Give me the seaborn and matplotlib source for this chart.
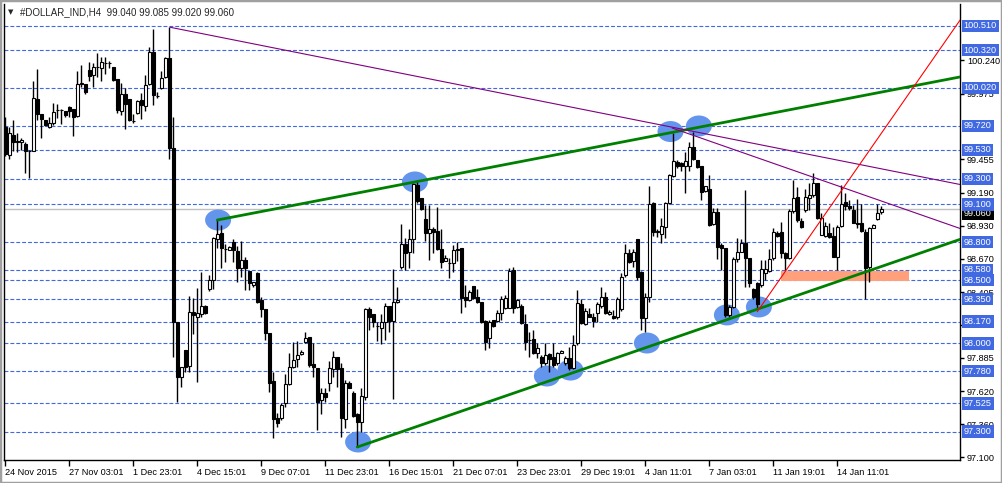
import numpy as np
import matplotlib
matplotlib.use("Agg")
import matplotlib.pyplot as plt
from matplotlib.patches import Ellipse, Rectangle
from matplotlib.transforms import blended_transform_factory
import seaborn as sns

# H4 bars of #DOLLAR_IND, bar 0 = 24 Nov 2015
opens = [
    99.710, 99.490, 99.650, 99.600, 99.590, 99.580, 99.520, 99.520, 99.930, 99.814,
    99.767, 99.714, 99.740, 99.846, 99.846, 99.840, 99.867, 99.851, 99.798, 100.050,
    100.052, 100.163, 100.123, 100.184, 100.176, 100.215, 100.215, 100.189, 100.088, 99.838,
    99.973, 99.933, 99.759, 99.820, 99.925, 99.877, 100.052, 100.307, 99.957, 100.017,
    100.110, 100.255, 99.543, 98.171, 97.736, 97.947, 97.823, 98.245, 98.211, 98.232,
    98.298, 98.427, 98.501, 98.823, 98.870, 98.743, 98.738, 98.804, 98.730, 98.593,
    98.659, 98.574, 98.461, 98.553, 98.343, 98.269, 98.079, 97.702, 97.406, 97.412,
    97.525, 97.678, 97.815, 97.873, 97.913, 98.013, 98.047, 97.836, 97.802, 97.551,
    97.610, 97.683, 97.794, 97.889, 97.802, 97.398, 97.683, 97.604, 97.438, 97.375,
    97.578, 98.269, 98.229, 98.137, 98.118, 98.171, 98.295, 98.176, 98.324, 98.606,
    98.783, 98.725, 98.822, 99.252, 99.152, 98.980, 98.875, 98.901, 98.891, 98.743,
    98.654, 98.633, 98.633, 98.738, 98.751, 98.364, 98.343, 98.454, 98.364, 98.324,
    98.176, 98.039, 98.184, 98.179, 98.237, 98.277, 98.282, 98.580, 98.285, 98.298,
    98.153, 98.026, 98.031, 97.920, 97.894, 97.847, 97.913, 97.889, 97.841, 97.926,
    97.841, 97.881, 97.802, 97.999, 98.308, 98.153, 98.232, 98.206, 98.237, 98.295,
    98.364, 98.232, 98.216, 98.211, 98.269, 98.540, 98.717, 98.654, 98.822, 98.567,
    98.198, 98.369, 99.112, 98.883, 98.862, 98.923, 99.112, 99.323, 99.437, 99.429,
    99.402, 99.402, 99.550, 99.450, 99.402, 99.207, 99.218, 98.944, 99.036, 98.778,
    98.751, 98.224, 98.290, 98.664, 98.725, 98.791, 98.672, 98.427, 98.474, 98.461,
    98.554, 98.575, 98.672, 98.875, 98.883, 98.717, 98.672, 99.049, 99.155, 98.970,
    99.054, 99.147, 99.173, 99.271, 98.857, 98.849, 98.875, 98.849, 98.685, 98.928,
    99.120, 99.086, 99.054, 98.954, 98.949, 98.883, 98.601, 98.915, 98.981, 99.040,
]
highs = [
    99.790, 99.710, 99.770, 99.660, 99.620, 99.590, 99.530, 100.075, 100.168, 99.814,
    99.767, 99.793, 99.904, 99.894, 99.850, 99.840, 99.877, 99.851, 100.150, 100.202,
    100.052, 100.223, 100.215, 100.294, 100.268, 100.268, 100.233, 100.189, 100.088, 100.057,
    100.017, 99.933, 99.814, 99.925, 99.978, 100.123, 100.347, 100.484, 99.990, 100.150,
    100.263, 100.500, 99.793, 98.171, 97.815, 97.947, 98.370, 98.361, 98.435, 98.561,
    98.303, 98.540, 98.844, 98.975, 98.936, 98.783, 98.772, 98.825, 98.770, 98.810,
    98.680, 98.574, 98.488, 98.561, 98.369, 98.269, 98.079, 97.776, 97.446, 97.525,
    97.757, 97.920, 98.013, 98.021, 97.947, 98.092, 98.047, 98.000, 97.802, 97.644,
    97.644, 97.863, 97.939, 97.894, 97.842, 97.710, 97.705, 97.625, 97.446, 97.644,
    98.277, 98.290, 98.229, 98.171, 98.232, 98.322, 98.295, 98.585, 98.448, 98.944,
    98.830, 98.901, 99.265, 99.292, 99.152, 99.094, 99.094, 98.922, 99.075, 98.901,
    98.699, 98.672, 98.778, 98.804, 98.751, 98.461, 98.422, 98.454, 98.427, 98.324,
    98.184, 98.184, 98.184, 98.264, 98.374, 98.382, 98.593, 98.606, 98.348, 98.311,
    98.232, 98.092, 98.105, 98.000, 97.907, 98.000, 97.920, 98.000, 97.934, 97.947,
    97.899, 97.973, 98.066, 98.422, 98.348, 98.277, 98.277, 98.237, 98.329, 98.443,
    98.408, 98.264, 98.264, 98.364, 98.559, 98.785, 98.743, 98.743, 98.822, 98.575,
    98.395, 99.244, 99.120, 98.902, 98.988, 99.120, 99.339, 99.660, 99.450, 99.432,
    99.516, 99.595, 99.674, 99.450, 99.402, 99.244, 99.331, 99.068, 99.068, 98.796,
    98.751, 98.303, 98.680, 98.836, 98.822, 99.213, 98.672, 98.435, 98.487, 98.659,
    98.659, 98.743, 98.909, 98.891, 98.962, 98.725, 99.060, 99.292, 99.234, 98.988,
    99.218, 99.271, 99.345, 99.271, 99.028, 98.962, 98.954, 98.923, 98.936, 99.252,
    99.192, 99.134, 99.094, 99.139, 99.102, 98.902, 98.923, 98.944, 99.102, 99.085,
]
lows = [
    99.480, 99.460, 99.520, 99.510, 99.530, 99.345, 99.305, 99.520, 99.770, 99.620,
    99.720, 99.700, 99.727, 99.780, 99.735, 99.793, 99.793, 99.640, 99.793, 100.030,
    99.973, 100.075, 100.031, 100.110, 100.075, 100.128, 100.176, 100.078, 99.820, 99.806,
    99.693, 99.762, 99.740, 99.814, 99.777, 99.840, 100.044, 99.885, 99.938, 100.010,
    100.100, 99.455, 97.894, 97.538, 97.657, 97.776, 97.776, 98.074, 97.697, 98.206,
    98.232, 98.416, 98.427, 98.751, 98.599, 98.641, 98.738, 98.646, 98.488, 98.527,
    98.422, 98.422, 98.448, 98.322, 98.211, 98.026, 97.618, 97.248, 97.335, 97.393,
    97.499, 97.670, 97.802, 97.815, 97.907, 98.005, 97.815, 97.736, 97.314, 97.441,
    97.538, 97.625, 97.736, 97.657, 97.261, 97.327, 97.644, 97.420, 97.177, 97.301,
    97.551, 98.105, 98.132, 98.021, 97.994, 98.026, 98.087, 97.559, 98.322, 98.585,
    98.580, 98.593, 98.712, 99.112, 99.054, 98.812, 98.659, 98.712, 98.738, 98.599,
    98.651, 98.519, 98.567, 98.654, 98.237, 98.290, 98.337, 98.350, 98.322, 98.158,
    97.947, 97.960, 98.132, 98.171, 98.184, 98.269, 98.277, 98.242, 98.282, 98.153,
    97.947, 97.894, 97.915, 97.881, 97.815, 97.828, 97.776, 97.815, 97.828, 97.920,
    97.828, 97.789, 97.794, 97.986, 98.153, 98.145, 98.211, 98.132, 98.166, 98.277,
    98.232, 98.224, 98.192, 98.192, 98.258, 98.527, 98.633, 98.606, 98.501, 98.105,
    98.092, 98.329, 98.849, 98.843, 98.796, 98.830, 99.102, 99.313, 99.384, 99.366,
    99.191, 99.366, 99.450, 99.384, 99.134, 99.200, 98.928, 98.936, 98.664, 98.580,
    98.205, 98.211, 98.277, 98.646, 98.725, 98.448, 98.448, 98.348, 98.277, 98.448,
    98.501, 98.567, 98.659, 98.838, 98.672, 98.580, 98.664, 99.033, 98.962, 98.915,
    99.041, 99.054, 99.160, 98.980, 98.857, 98.843, 98.830, 98.685, 98.580, 98.923,
    99.054, 99.054, 98.949, 98.909, 98.883, 98.348, 98.488, 98.909, 98.975, 99.020,
]
closes = [
    99.500, 99.660, 99.590, 99.595, 99.610, 99.520, 99.520, 99.940, 99.810, 99.772,
    99.727, 99.740, 99.833, 99.846, 99.846, 99.806, 99.840, 99.793, 100.049, 100.057,
    99.991, 100.115, 100.184, 100.184, 100.223, 100.215, 100.215, 100.083, 99.846, 99.973,
    99.893, 99.767, 99.759, 99.917, 99.885, 100.041, 100.307, 99.965, 99.957, 100.102,
    100.255, 99.548, 98.171, 97.736, 97.810, 97.815, 98.245, 98.224, 98.237, 98.295,
    98.237, 98.501, 98.830, 98.862, 98.751, 98.743, 98.765, 98.738, 98.593, 98.659,
    98.593, 98.474, 98.482, 98.330, 98.269, 98.084, 97.689, 97.398, 97.367, 97.512,
    97.675, 97.815, 97.868, 97.907, 97.934, 98.039, 97.828, 97.815, 97.538, 97.604,
    97.572, 97.802, 97.889, 97.794, 97.406, 97.683, 97.644, 97.427, 97.375, 97.586,
    98.269, 98.211, 98.171, 98.137, 98.171, 98.295, 98.176, 98.324, 98.343, 98.783,
    98.717, 98.822, 99.257, 99.126, 99.060, 98.870, 98.901, 98.880, 98.743, 98.646,
    98.672, 98.633, 98.738, 98.743, 98.356, 98.343, 98.409, 98.356, 98.329, 98.171,
    98.013, 98.171, 98.137, 98.237, 98.348, 98.361, 98.574, 98.277, 98.343, 98.158,
    98.013, 98.026, 97.920, 97.960, 97.841, 97.907, 97.873, 97.828, 97.926, 97.942,
    97.886, 97.802, 97.986, 98.316, 98.158, 98.258, 98.211, 98.179, 98.311, 98.364,
    98.242, 98.248, 98.198, 98.350, 98.522, 98.717, 98.646, 98.725, 98.522, 98.198,
    98.369, 99.102, 98.883, 98.883, 98.930, 99.107, 99.331, 99.445, 99.402, 99.402,
    99.442, 99.550, 99.455, 99.392, 99.200, 99.244, 98.936, 99.036, 98.764, 98.756,
    98.224, 98.290, 98.664, 98.725, 98.791, 98.672, 98.474, 98.364, 98.311, 98.585,
    98.585, 98.664, 98.883, 98.849, 98.712, 98.672, 99.049, 99.147, 98.975, 98.923,
    99.155, 99.173, 99.271, 98.988, 98.988, 98.928, 98.843, 98.685, 98.923, 99.102,
    99.086, 99.068, 98.954, 98.944, 98.891, 98.593, 98.915, 98.936, 99.033, 99.060,
]

# time axis labels, one every 16 bars
date_labels = ["24 Nov 2015", "27 Nov 03:01", "1 Dec 23:01", "4 Dec 15:01", "9 Dec 07:01",
               "11 Dec 23:01", "16 Dec 15:01", "21 Dec 07:01", "23 Dec 23:01", "29 Dec 19:01",
               "4 Jan 11:01", "7 Jan 03:01", "11 Jan 19:01", "14 Jan 11:01"]

# horizontal levels drawn on the chart
levels = [100.510, 100.320, 100.020, 99.720, 99.530, 99.300, 99.100, 98.800,
          98.580, 98.500, 98.350, 98.170, 98.000, 97.780, 97.525, 97.300]
# price scale (the ones fully behind level labels are left out)
scale_ticks = [100.240, 99.975, 99.455, 99.190, 98.930, 98.670,
               98.405, 98.145, 97.885, 97.620, 97.360, 97.100]
bid = 99.060

# trend lines (bar index, price) at both ends
green_upper = ([53, 238.7], [98.975, 100.107])
green_lower = ([88, 238.7], [97.179, 98.822])
purple_long = ([41.2, 238.7], [100.500, 99.256])
purple_short = ([166.7, 238.7], [99.703, 98.908])
red_line = ([188.0, 238.7], [98.250, 100.557])

# marked touch points (bar, price)
touch_x = [53.2, 102.4, 135.4, 141.3, 160.4, 166.3, 173.4, 180.4, 188.4, 88.2]
touch_y = [98.975, 99.276, 97.741, 97.788, 98.002, 99.675, 99.719, 98.224, 98.287, 97.219]

# support zone
zone_x = [193.9, 225.9]
zone_y = [98.495, 98.574]

sns.set_style("white")
plt.rcParams["font.family"] = ["Liberation Sans", "DejaVu Sans"]
FS = 6.6

fig = plt.figure(figsize=(10.02, 4.83), dpi=100)
ax = fig.add_axes([4 / 1002, 23 / 483, 956 / 1002, 456 / 483])

x = np.arange(len(opens))
o = np.array(opens)
h = np.array(highs)
l = np.array(lows)
c = np.array(closes)

# levels and bid line
for lv in levels:
    ax.axhline(lv, color="#4169E1", lw=0.8, ls=(0, (3.5, 1.8)), zorder=1)
ax.axhline(bid, color="#C0C0C0", lw=1, zorder=1)

# support zone
ax.add_patch(Rectangle((zone_x[0], zone_y[0]), zone_x[1] - zone_x[0], zone_y[1] - zone_y[0],
                       fc="#FFA07A", ec="none", zorder=1.5))

# touch markers
for tx, ty in zip(touch_x, touch_y):
    ax.add_patch(Ellipse((tx, ty), 6.5, 0.166, fc="#6495ED", ec="none", zorder=2))

# candles
ax.vlines(x, l, h, color="black", lw=1, zorder=3)
up = c >= o
body = np.maximum(np.abs(c - o), 0.002)
ax.bar(x[up], body[up], bottom=np.minimum(o, c)[up], width=0.7,
       color="white", edgecolor="black", linewidth=0.8, zorder=3.5)
ax.bar(x[~up], body[~up], bottom=np.minimum(o, c)[~up], width=0.7,
       color="black", edgecolor="black", linewidth=0.8, zorder=3.5)

# trend lines
for (lx, ly), col, lw in [(green_upper, "#008000", 2.0), (green_lower, "#008000", 2.0),
                          (purple_long, "#800080", 0.8), (purple_short, "#800080", 0.8),
                          (red_line, "#FF0000", 0.8)]:
    sns.lineplot(x=lx, y=ly, ax=ax, color=col, lw=lw, zorder=4)

ax.set_xlim(-0.325, 238.675)
ax.set_ylim(97.0764, 100.684)
ax.set_xlabel("")
ax.set_ylabel("")

# axes look
for side in ["left", "bottom", "right"]:
    ax.spines[side].set_visible(True)
    ax.spines[side].set_color("black")
    ax.spines[side].set_linewidth(1)
ax.spines["top"].set_visible(False)

ax.set_xticks(np.arange(0, 16 * len(date_labels), 16))
ax.set_xticklabels(date_labels, fontsize=FS)
for lab in ax.get_xticklabels():
    lab.set_horizontalalignment("left")
ax.yaxis.tick_right()
ax.set_yticks(scale_ticks)
ax.set_yticklabels([f"{v:.3f}" for v in scale_ticks], fontsize=FS)
ax.tick_params(axis="x", direction="out", length=4, width=1, pad=1.5, colors="black", bottom=True)
ax.tick_params(axis="y", direction="out", length=3, width=1, pad=2, colors="black", right=True, left=False)

# price labels on the scale
trans = blended_transform_factory(ax.transAxes, ax.transData)
ax.text(1.004, bid - 0.035, f"{bid:.3f}", transform=trans, ha="left", va="center", fontsize=FS,
        color="white", bbox=dict(boxstyle="square,pad=0.2", fc="black", ec="none"),
        clip_on=False, zorder=10)
for lv in levels:
    ax.text(1.004, lv, f"{lv:.3f}", transform=trans, ha="left", va="center", fontsize=FS,
            color="white", bbox=dict(boxstyle="square,pad=0.2", fc="#4169E1", ec="none"),
            clip_on=False, zorder=11)

# header
fig.text(8 / 1002, 1 - 12 / 483, "\u25bc", fontsize=5, va="center", ha="left",
         family=["DejaVu Sans"])
fig.text(20 / 1002, 1 - 12 / 483, "#DOLLAR_IND,H4  99.040 99.085 99.020 99.060",
         fontsize=FS + 0.4, va="center", ha="left")

# window frame
fig.add_artist(Rectangle((0, 0), 1, 1, transform=fig.transFigure, fill=False,
                         ec="#A0A0A0", lw=2.5))

fig.savefig("out.png", dpi=100)
